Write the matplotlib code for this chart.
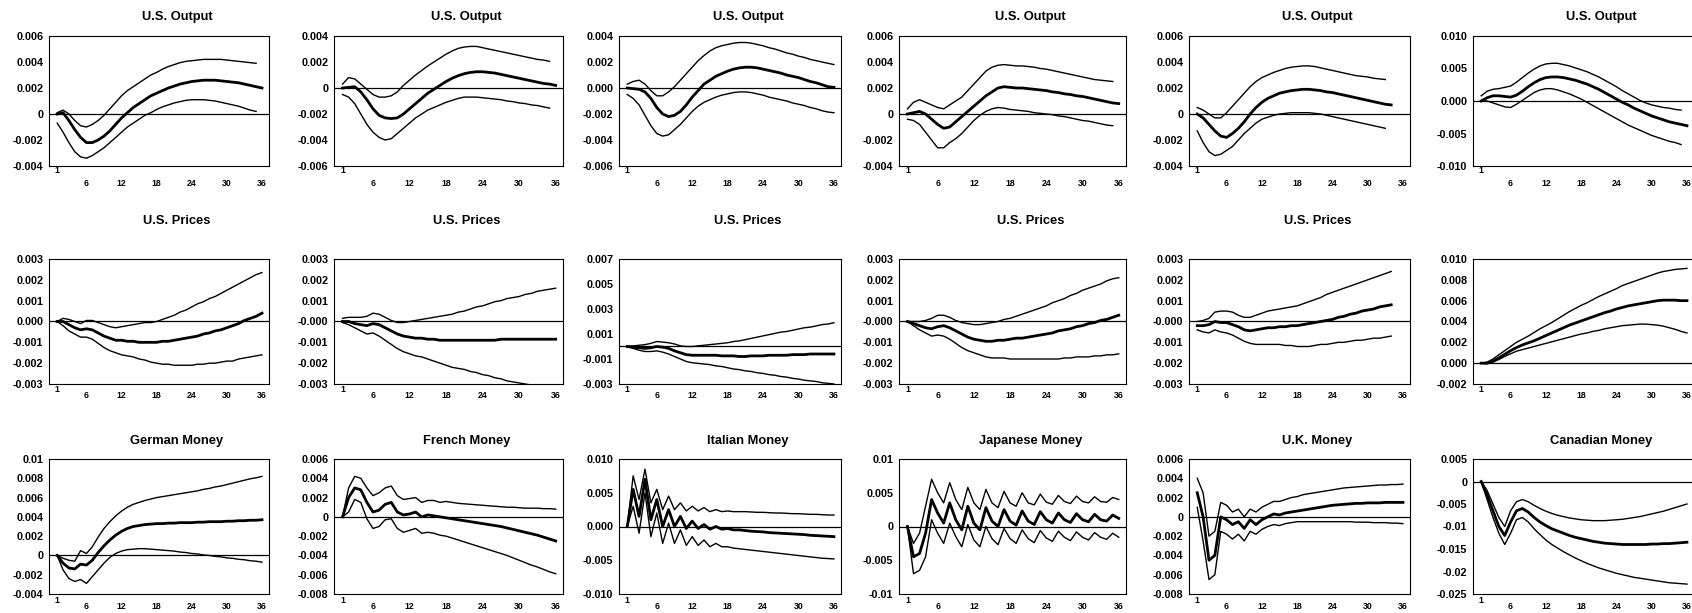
import matplotlib.pyplot as plt

plt.rcParams['font.family'] = ['Liberation Sans', 'DejaVu Sans']

# impulse responses, in units of 0.001, for periods 1, 2, 3, ...
# row 1: U.S. Output
r1c1_mid = [0, 0.1, -0.5, -1.2, -1.8, -2.2, -2.2, -2.0, -1.7, -1.3, -0.8, -0.3, 0.1, 0.5, 0.8, 1.1, 1.4, 1.6,
            1.8, 2.0, 2.15, 2.3, 2.4, 2.5, 2.55, 2.6, 2.6, 2.6, 2.55, 2.5, 2.45, 2.4, 2.3, 2.2, 2.1, 2.0]
r1c1_hi = [0.1, 0.3, 0.0, -0.5, -0.9, -1.0, -0.8, -0.5, -0.1, 0.4, 0.9, 1.4, 1.8, 2.1, 2.4, 2.7, 3.0, 3.2,
           3.45, 3.65, 3.8, 3.95, 4.05, 4.1, 4.15, 4.2, 4.2, 4.2, 4.2, 4.15, 4.1, 4.05, 4.0, 3.95, 3.9]
r1c1_lo = [-0.7, -1.4, -2.2, -2.9, -3.3, -3.4, -3.2, -2.9, -2.6, -2.2, -1.8, -1.4, -1.0, -0.7, -0.4, -0.1, 0.1,
           0.35, 0.55, 0.7, 0.85, 0.95, 1.05, 1.1, 1.1, 1.1, 1.05, 1.0, 0.9, 0.8, 0.7, 0.6, 0.45, 0.3, 0.2]

r1c2_mid = [0, 0.05, 0.1, -0.3, -0.9, -1.6, -2.1, -2.3, -2.35, -2.3, -2.0, -1.6, -1.2, -0.8, -0.4, -0.1, 0.2, 0.5,
            0.75, 0.95, 1.1, 1.2, 1.25, 1.25, 1.2, 1.15, 1.05, 0.95, 0.85, 0.75, 0.65, 0.55, 0.45, 0.35, 0.3, 0.2]
r1c2_hi = [0.3, 0.8, 0.7, 0.3, -0.1, -0.5, -0.7, -0.7, -0.6, -0.3, 0.2, 0.6, 1.0, 1.35, 1.7, 2.0, 2.3, 2.6,
           2.85, 3.05, 3.15, 3.2, 3.2, 3.1, 3.0, 2.9, 2.8, 2.7, 2.6, 2.5, 2.4, 2.3, 2.2, 2.15, 2.05]
r1c2_lo = [-0.5, -0.7, -1.2, -2.0, -2.8, -3.4, -3.8, -4.0, -3.9, -3.5, -3.1, -2.7, -2.3, -2.0, -1.7, -1.5, -1.3,
           -1.1, -0.95, -0.8, -0.7, -0.7, -0.7, -0.75, -0.8, -0.85, -0.9, -1.0, -1.05, -1.15, -1.2, -1.3, -1.35,
           -1.45, -1.55]

r1c3_mid = [0, -0.05, -0.1, -0.3, -0.8, -1.5, -2.0, -2.2, -2.1, -1.8, -1.3, -0.7, -0.2, 0.3, 0.6, 0.9, 1.1, 1.3,
            1.45, 1.55, 1.6, 1.6, 1.55, 1.45, 1.35, 1.25, 1.15, 1.0, 0.9, 0.8, 0.65, 0.5, 0.4, 0.25, 0.1, 0.05]
r1c3_hi = [0.3, 0.5, 0.6, 0.3, -0.2, -0.6, -0.6, -0.3, 0.1, 0.6, 1.1, 1.6, 2.1, 2.5, 2.85, 3.1, 3.25, 3.35,
           3.45, 3.5, 3.5, 3.45, 3.35, 3.25, 3.1, 3.0, 2.85, 2.7, 2.6, 2.45, 2.35, 2.2, 2.1, 2.0, 1.9, 1.8]
r1c3_lo = [-0.5, -0.8, -1.3, -2.1, -2.9, -3.5, -3.7, -3.6, -3.2, -2.8, -2.3, -1.8, -1.4, -1.1, -0.9, -0.7, -0.55,
           -0.45, -0.35, -0.3, -0.3, -0.35, -0.45, -0.55, -0.7, -0.8, -0.9, -1.0, -1.15, -1.25, -1.35, -1.5, -1.6,
           -1.75, -1.85, -1.9]

r1c4_mid = [0, 0.1, 0.2, 0.0, -0.4, -0.8, -1.1, -1.0, -0.6, -0.2, 0.2, 0.6, 1.0, 1.4, 1.7, 2.0, 2.1, 2.05,
            2.0, 2.0, 1.95, 1.9, 1.85, 1.8, 1.7, 1.65, 1.55, 1.5, 1.4, 1.35, 1.25, 1.15, 1.05, 0.95, 0.85, 0.8]
r1c4_hi = [0.4, 0.9, 1.1, 0.9, 0.7, 0.5, 0.4, 0.7, 1.0, 1.3, 1.8, 2.3, 2.8, 3.3, 3.6, 3.75, 3.8, 3.75, 3.7,
           3.7, 3.65, 3.6, 3.5, 3.45, 3.35, 3.25, 3.15, 3.05, 2.95, 2.85, 2.75, 2.65, 2.6, 2.55, 2.5]
r1c4_lo = [-0.4, -0.5, -0.8, -1.4, -2.0, -2.6, -2.6, -2.2, -1.9, -1.5, -1.0, -0.5, -0.1, 0.2, 0.4, 0.5, 0.45,
           0.35, 0.3, 0.25, 0.2, 0.1, 0.05, 0.0, -0.05, -0.15, -0.2, -0.3, -0.4, -0.5, -0.55, -0.65, -0.75,
           -0.85, -0.9]

r1c5_mid = [0, -0.3, -0.8, -1.3, -1.7, -1.8, -1.5, -1.1, -0.6, 0.0, 0.5, 0.9, 1.2, 1.4, 1.6, 1.7, 1.8, 1.85,
            1.9, 1.9, 1.85, 1.8, 1.7, 1.65, 1.55, 1.45, 1.35, 1.25, 1.15, 1.05, 0.95, 0.85, 0.75, 0.7]
r1c5_hi = [0.5, 0.3, 0.0, -0.3, -0.3, 0.1, 0.6, 1.1, 1.6, 2.1, 2.5, 2.8, 3.0, 3.2, 3.35, 3.5, 3.6, 3.65, 3.7,
           3.7, 3.65, 3.55, 3.45, 3.35, 3.25, 3.15, 3.05, 2.95, 2.9, 2.85, 2.75, 2.7, 2.65]
r1c5_lo = [-1.3, -2.2, -2.9, -3.2, -3.1, -2.8, -2.5, -2.0, -1.5, -1.1, -0.7, -0.4, -0.25, -0.1, 0.0, 0.05, 0.1,
           0.1, 0.1, 0.1, 0.05, 0.0, -0.1, -0.2, -0.3, -0.4, -0.5, -0.6, -0.7, -0.8, -0.9, -1.0, -1.1]

r1c6_mid = [0, 0.5, 0.8, 0.8, 0.7, 0.6, 0.9, 1.5, 2.2, 2.8, 3.3, 3.6, 3.7, 3.7, 3.6, 3.4, 3.2, 2.9, 2.6, 2.2,
            1.8, 1.3, 0.8, 0.3, -0.2, -0.6, -1.1, -1.5, -1.9, -2.3, -2.6, -2.9, -3.2, -3.4, -3.6, -3.8]
r1c6_hi = [0.8, 1.5, 1.8, 1.9, 2.1, 2.3, 2.9, 3.6, 4.3, 4.9, 5.4, 5.7, 5.8, 5.8, 5.6, 5.4, 5.1, 4.8, 4.5, 4.1,
           3.7, 3.2, 2.7, 2.2, 1.6, 1.1, 0.6, 0.1, -0.3, -0.6, -0.8, -1.0, -1.1, -1.3, -1.4]
r1c6_lo = [0, 0, -0.3, -0.6, -0.9, -1.0, -0.5, 0.1, 0.7, 1.3, 1.7, 1.9, 1.9, 1.7, 1.4, 1.1, 0.7, 0.3, -0.2,
           -0.7, -1.2, -1.7, -2.2, -2.7, -3.2, -3.7, -4.1, -4.5, -4.9, -5.3, -5.6, -5.9, -6.2, -6.4, -6.7]

# row 2: U.S. Prices (last panel untitled)
r2c1_mid = [0, 0, -0.15, -0.3, -0.4, -0.35, -0.4, -0.55, -0.7, -0.8, -0.9, -0.9, -0.95, -0.95, -1.0, -1.0, -1.0,
            -1.0, -0.95, -0.95, -0.9, -0.85, -0.8, -0.75, -0.7, -0.6, -0.55, -0.45, -0.4, -0.3, -0.2, -0.1,
            0.05, 0.15, 0.25, 0.4]
r2c1_hi = [0, 0.15, 0.1, 0.0, -0.1, 0.05, 0.05, -0.05, -0.15, -0.25, -0.3, -0.25, -0.2, -0.15, -0.1, -0.05,
           -0.05, 0.0, 0.1, 0.2, 0.3, 0.45, 0.55, 0.7, 0.85, 0.95, 1.1, 1.2, 1.35, 1.5, 1.65, 1.8, 1.95, 2.1,
           2.25, 2.35]
r2c1_lo = [0, -0.2, -0.45, -0.6, -0.75, -0.75, -0.85, -1.05, -1.25, -1.4, -1.5, -1.6, -1.65, -1.7, -1.8, -1.85,
           -1.95, -2.0, -2.05, -2.05, -2.1, -2.1, -2.1, -2.1, -2.05, -2.05, -2.0, -2.0, -1.95, -1.9, -1.9, -1.8,
           -1.75, -1.7, -1.65, -1.6]

r2c2_mid = [0, 0, -0.1, -0.15, -0.2, -0.1, -0.15, -0.3, -0.45, -0.6, -0.7, -0.75, -0.8, -0.8, -0.85, -0.85,
            -0.9, -0.9, -0.9, -0.9, -0.9, -0.9, -0.9, -0.9, -0.9, -0.9, -0.85, -0.85, -0.85, -0.85, -0.85,
            -0.85, -0.85, -0.85, -0.85, -0.85]
r2c2_hi = [0.15, 0.2, 0.2, 0.2, 0.25, 0.4, 0.35, 0.2, 0.05, -0.05, -0.05, 0.0, 0.05, 0.1, 0.15, 0.2, 0.25, 0.3,
           0.35, 0.45, 0.5, 0.6, 0.7, 0.75, 0.85, 0.95, 1.0, 1.1, 1.15, 1.2, 1.3, 1.35, 1.45, 1.5, 1.55, 1.6]
r2c2_lo = [-0.05, -0.15, -0.3, -0.45, -0.6, -0.55, -0.7, -0.9, -1.1, -1.3, -1.45, -1.55, -1.65, -1.7, -1.8,
           -1.9, -2.0, -2.1, -2.2, -2.25, -2.3, -2.4, -2.45, -2.55, -2.6, -2.7, -2.75, -2.85, -2.9, -2.95, -3.0,
           -3.05, -3.1, -3.15, -3.2, -3.25]

r2c3_mid = [0, -0.05, -0.1, -0.15, -0.1, 0.0, -0.05, -0.15, -0.35, -0.5, -0.65, -0.7, -0.7, -0.7, -0.7, -0.7,
            -0.75, -0.75, -0.75, -0.8, -0.8, -0.75, -0.75, -0.75, -0.7, -0.7, -0.7, -0.7, -0.65, -0.65, -0.65,
            -0.6, -0.6, -0.6, -0.6, -0.6]
r2c3_hi = [0, 0.05, 0.1, 0.15, 0.25, 0.4, 0.35, 0.3, 0.2, 0.05, 0.0, 0.0, 0.05, 0.1, 0.15, 0.2, 0.25, 0.3,
           0.4, 0.45, 0.55, 0.65, 0.75, 0.85, 0.95, 1.05, 1.15, 1.2, 1.3, 1.4, 1.5, 1.55, 1.65, 1.75, 1.8, 1.9]
r2c3_lo = [0, -0.15, -0.3, -0.4, -0.4, -0.35, -0.45, -0.6, -0.8, -1.0, -1.2, -1.3, -1.35, -1.4, -1.45, -1.55,
           -1.6, -1.7, -1.8, -1.85, -1.95, -2.0, -2.1, -2.15, -2.25, -2.3, -2.4, -2.45, -2.55, -2.6, -2.7,
           -2.75, -2.8, -2.9, -2.95, -3.0]

r2c4_mid = [0, -0.1, -0.2, -0.3, -0.35, -0.25, -0.2, -0.3, -0.45, -0.6, -0.75, -0.85, -0.9, -0.95, -0.95,
            -0.9, -0.9, -0.85, -0.8, -0.8, -0.75, -0.7, -0.65, -0.6, -0.55, -0.45, -0.4, -0.35, -0.25, -0.2,
            -0.1, -0.05, 0.05, 0.1, 0.2, 0.3]
r2c4_hi = [0, 0, 0.0, 0.05, 0.15, 0.3, 0.3, 0.2, 0.05, -0.05, -0.1, -0.15, -0.15, -0.1, -0.05, 0.0, 0.1,
           0.15, 0.25, 0.35, 0.45, 0.55, 0.65, 0.75, 0.9, 1.0, 1.1, 1.25, 1.35, 1.5, 1.6, 1.7, 1.8, 1.95, 2.05,
           2.1]
r2c4_lo = [0, -0.2, -0.4, -0.55, -0.7, -0.65, -0.7, -0.85, -1.05, -1.25, -1.4, -1.5, -1.6, -1.7, -1.75,
           -1.75, -1.75, -1.8, -1.8, -1.8, -1.8, -1.8, -1.8, -1.8, -1.8, -1.8, -1.75, -1.75, -1.7, -1.7, -1.7,
           -1.65, -1.65, -1.6, -1.6, -1.55]

r2c5_mid = [-0.2, -0.2, -0.15, 0.0, -0.05, -0.05, -0.15, -0.25, -0.4, -0.45, -0.4, -0.35, -0.3, -0.3, -0.25,
            -0.25, -0.2, -0.2, -0.15, -0.1, -0.05, 0.0, 0.05, 0.1, 0.2, 0.25, 0.35, 0.4, 0.5, 0.55, 0.6, 0.7,
            0.75, 0.8]
r2c5_hi = [0, 0.05, 0.15, 0.45, 0.5, 0.5, 0.45, 0.3, 0.2, 0.2, 0.3, 0.4, 0.5, 0.55, 0.6, 0.65, 0.7, 0.75, 0.85,
           0.95, 1.05, 1.15, 1.3, 1.4, 1.5, 1.6, 1.7, 1.8, 1.9, 2.0, 2.1, 2.2, 2.3, 2.4]
r2c5_lo = [-0.4, -0.5, -0.55, -0.4, -0.5, -0.55, -0.65, -0.8, -0.95, -1.05, -1.1, -1.1, -1.1, -1.1, -1.1,
           -1.15, -1.15, -1.2, -1.2, -1.2, -1.15, -1.1, -1.1, -1.05, -1.0, -1.0, -0.95, -0.9, -0.9, -0.85,
           -0.8, -0.8, -0.75, -0.7]

r2c6_mid = [0, 0.0, 0.2, 0.5, 0.85, 1.2, 1.5, 1.75, 1.95, 2.15, 2.4, 2.65, 2.9, 3.15, 3.4, 3.65, 3.85, 4.05,
            4.25, 4.45, 4.65, 4.85, 5.0, 5.2, 5.35, 5.5, 5.6, 5.7, 5.8, 5.9, 6.0, 6.05, 6.05, 6.05, 6.0, 6.0]
r2c6_hi = [0, 0.1, 0.4, 0.8, 1.2, 1.6, 2.0, 2.3, 2.6, 2.95, 3.3, 3.6, 3.9, 4.25, 4.6, 4.95, 5.25, 5.55, 5.8,
           6.1, 6.4, 6.65, 6.9, 7.15, 7.45, 7.65, 7.85, 8.05, 8.25, 8.45, 8.65, 8.8, 8.9, 9.0, 9.05, 9.1]
r2c6_lo = [0, -0.05, 0.1, 0.35, 0.65, 0.9, 1.15, 1.3, 1.45, 1.6, 1.75, 1.9, 2.05, 2.2, 2.35, 2.5, 2.65, 2.8,
           2.9, 3.05, 3.15, 3.3, 3.4, 3.5, 3.6, 3.65, 3.7, 3.75, 3.75, 3.7, 3.65, 3.55, 3.4, 3.25, 3.05, 2.9]

# row 3: money responses
r3c1_mid = [0, -0.8, -1.3, -1.4, -0.9, -1.0, -0.5, 0.3, 1.0, 1.6, 2.1, 2.5, 2.8, 3.0, 3.1, 3.2, 3.25, 3.3,
            3.3, 3.35, 3.35, 3.4, 3.4, 3.4, 3.45, 3.45, 3.5, 3.5, 3.5, 3.55, 3.55, 3.6, 3.6, 3.65, 3.65, 3.7]
r3c1_hi = [0, -0.3, -0.5, -0.6, 0.5, 0.2, 0.9, 1.9, 2.8, 3.5, 4.1, 4.6, 5.0, 5.3, 5.5, 5.7, 5.85, 6.0, 6.1,
           6.2, 6.3, 6.4, 6.5, 6.6, 6.7, 6.85, 6.95, 7.1, 7.2, 7.35, 7.5, 7.65, 7.8, 7.95, 8.05, 8.2]
r3c1_lo = [0, -1.5, -2.4, -2.7, -2.5, -2.9, -2.2, -1.5, -0.8, -0.2, 0.2, 0.45, 0.6, 0.65, 0.7, 0.7, 0.65,
           0.6, 0.55, 0.5, 0.45, 0.35, 0.3, 0.2, 0.15, 0.05, 0.0, -0.1, -0.15, -0.25, -0.3, -0.4, -0.45,
           -0.55, -0.6, -0.7]

r3c2_mid = [0, 2.0, 3.0, 2.8, 1.5, 0.5, 0.7, 1.3, 1.5, 0.5, 0.2, 0.3, 0.5, 0.0, 0.2, 0.1, 0.0, -0.1, -0.2,
            -0.3, -0.4, -0.5, -0.6, -0.7, -0.8, -0.9, -1.0, -1.15, -1.3, -1.45, -1.6, -1.75, -1.9, -2.1, -2.3,
            -2.5]
r3c2_hi = [0, 3.0, 4.2, 4.0, 3.0, 2.2, 2.5, 3.0, 3.2, 2.2, 1.8, 1.9, 2.0, 1.5, 1.7, 1.7, 1.5, 1.6, 1.5, 1.4,
           1.35, 1.3, 1.25, 1.2, 1.15, 1.1, 1.05, 1.0, 1.0, 0.95, 0.9, 0.9, 0.9, 0.85, 0.85, 0.8]
r3c2_lo = [0, 0.5, 1.8, 1.5, -0.2, -1.2, -1.0, -0.3, -0.2, -1.2, -1.6, -1.4, -1.2, -1.7, -1.6, -1.7, -1.9,
           -2.0, -2.2, -2.4, -2.6, -2.8, -3.0, -3.2, -3.4, -3.6, -3.8, -4.0, -4.25, -4.5, -4.75, -5.0, -5.2,
           -5.45, -5.7, -5.9]

r3c3_mid = [0, 5.5, 1.5, 7.0, 1.0, 4.0, 0.0, 2.5, 0.0, 1.5, -0.3, 0.8, -0.3, 0.3, -0.4, 0.0, -0.4, -0.3,
            -0.5, -0.5, -0.6, -0.7, -0.75, -0.8, -0.9, -0.95, -1.0, -1.05, -1.1, -1.15, -1.2, -1.3, -1.35,
            -1.4, -1.45, -1.5]
r3c3_hi = [0, 7.5, 4.0, 8.5, 3.5, 5.5, 2.5, 4.5, 2.5, 3.5, 2.3, 3.0, 2.3, 2.8, 2.2, 2.5, 2.2, 2.3, 2.2, 2.2,
           2.2, 2.15, 2.1, 2.1, 2.05, 2.0, 2.0, 1.95, 1.9, 1.9, 1.85, 1.8, 1.8, 1.75, 1.7, 1.7]
r3c3_lo = [0, 3.0, -1.0, 5.0, -1.5, 2.0, -2.5, 0.5, -2.5, -0.5, -2.8, -1.5, -2.8, -2.0, -3.0, -2.5, -3.0,
           -3.0, -3.2, -3.3, -3.4, -3.5, -3.6, -3.7, -3.8, -3.9, -4.0, -4.1, -4.2, -4.3, -4.4, -4.5, -4.6,
           -4.7, -4.75, -4.8]

r3c4_mid = [0, -4.5, -4.0, -1.0, 4.0, 2.0, 0.5, 3.5, 1.0, -0.5, 3.0, 0.5, -0.5, 2.8, 0.8, 0.0, 2.5, 0.8, 0.2,
            2.3, 0.8, 0.3, 2.2, 1.0, 0.5, 2.0, 1.0, 0.6, 1.9, 1.0, 0.7, 1.8, 1.0, 0.8, 1.7, 1.2]
r3c4_hi = [0, -2.5, -1.0, 3.0, 7.0, 5.0, 3.5, 6.5, 4.0, 2.5, 5.8, 3.5, 2.5, 5.5, 3.5, 2.8, 5.2, 3.5, 3.0,
           5.0, 3.5, 3.2, 4.8, 3.6, 3.3, 4.6, 3.7, 3.4, 4.5, 3.7, 3.5, 4.4, 3.7, 3.6, 4.3, 4.0]
r3c4_lo = [0, -7.0, -6.5, -4.5, 1.0, -1.0, -2.5, 0.5, -1.5, -3.0, 0.3, -2.0, -3.0, 0.0, -1.8, -2.7, -0.3,
           -1.8, -2.5, -0.5, -1.8, -2.4, -0.6, -1.7, -2.2, -0.7, -1.6, -2.1, -0.8, -1.6, -2.0, -0.9, -1.6,
           -1.9, -1.0, -1.6]

r3c5_mid = [2.5, 0.0, -4.5, -4.0, 0.0, -0.3, -0.8, -0.5, -1.2, -0.3, -0.8, -0.3, 0.0, 0.3, 0.2, 0.4, 0.5,
            0.6, 0.7, 0.8, 0.9, 1.0, 1.1, 1.2, 1.25, 1.3, 1.35, 1.4, 1.4, 1.45, 1.45, 1.45, 1.5, 1.5, 1.5, 1.5]
r3c5_hi = [4.0, 2.5, -2.0, -1.5, 1.5, 1.2, 0.5, 0.8, 0.0, 0.8, 0.5, 1.0, 1.3, 1.6, 1.6, 1.8, 2.0, 2.1, 2.3,
           2.4, 2.5, 2.6, 2.7, 2.8, 2.9, 3.0, 3.05, 3.1, 3.15, 3.2, 3.25, 3.3, 3.3, 3.35, 3.35, 3.4]
r3c5_lo = [1.0, -2.5, -6.5, -6.0, -1.5, -1.8, -2.3, -1.8, -2.5, -1.5, -1.8, -1.3, -1.0, -0.8, -0.9, -0.7,
           -0.6, -0.5, -0.5, -0.5, -0.5, -0.5, -0.5, -0.5, -0.5, -0.5, -0.5, -0.55, -0.55, -0.55, -0.6, -0.6,
           -0.6, -0.65, -0.65, -0.7]

r3c6_mid = [0, -3.0, -6.5, -10.0, -12.0, -9.0, -6.5, -6.0, -6.8, -8.0, -9.0, -9.8, -10.5, -11.0, -11.5,
            -12.0, -12.4, -12.7, -13.0, -13.3, -13.5, -13.7, -13.8, -13.9, -14.0, -14.0, -14.0, -14.0, -14.0,
            -13.9, -13.9, -13.8, -13.8, -13.7, -13.6, -13.5]
r3c6_hi = [0, -2.0, -5.0, -8.0, -10.0, -6.5, -4.5, -4.0, -4.5, -5.3, -6.0, -6.6, -7.1, -7.5, -7.8, -8.1,
           -8.3, -8.5, -8.6, -8.7, -8.7, -8.7, -8.6, -8.5, -8.4, -8.2, -8.0, -7.8, -7.5, -7.2, -6.9, -6.6,
           -6.2, -5.8, -5.4, -5.0]
r3c6_lo = [0, -4.0, -8.0, -11.5, -14.0, -11.5, -8.5, -8.0, -9.0, -10.5, -11.8, -13.0, -14.0, -14.8, -15.6,
           -16.3, -17.0, -17.6, -18.2, -18.7, -19.2, -19.6, -20.0, -20.4, -20.7, -21.0, -21.3, -21.5, -21.7,
           -21.9, -22.1, -22.3, -22.5, -22.6, -22.7, -22.8]

titles = [
    ["U.S. Output"] * 6,
    ["U.S. Prices"] * 5 + [""],
    ["German Money", "French Money", "Italian Money", "Japanese Money", "U.K. Money", "Canadian Money"],
]

ylabels = [
    [["-0.004", "-0.002", "0", "0.002", "0.004", "0.006"],
     ["-0.006", "-0.004", "-0.002", "0", "0.002", "0.004"],
     ["-0.006", "-0.004", "-0.002", "0.000", "0.002", "0.004"],
     ["-0.004", "-0.002", "0", "0.002", "0.004", "0.006"],
     ["-0.004", "-0.002", "0", "0.002", "0.004", "0.006"],
     ["-0.010", "-0.005", "0.000", "0.005", "0.010"]],
    [["-0.003", "-0.002", "-0.001", "0.000", "0.001", "0.002", "0.003"],
     ["-0.003", "-0.002", "-0.001", "-0.000", "0.001", "0.002", "0.003"],
     ["-0.003", "-0.001", "0.001", "0.003", "0.005", "0.007"],
     ["-0.003", "-0.002", "-0.001", "-0.000", "0.001", "0.002", "0.003"],
     ["-0.003", "-0.002", "-0.001", "-0.000", "0.001", "0.002", "0.003"],
     ["-0.002", "0.000", "0.002", "0.004", "0.006", "0.008", "0.010"]],
    [["-0.004", "-0.002", "0", "0.002", "0.004", "0.006", "0.008", "0.01"],
     ["-0.008", "-0.006", "-0.004", "-0.002", "0", "0.002", "0.004", "0.006"],
     ["-0.010", "-0.005", "0.000", "0.005", "0.010"],
     ["-0.01", "-0.005", "0", "0.005", "0.01"],
     ["-0.008", "-0.006", "-0.004", "-0.002", "0", "0.002", "0.004", "0.006"],
     ["-0.025", "-0.02", "-0.015", "-0.01", "-0.005", "0", "0.005"]],
]

series = [
    [(r1c1_mid, r1c1_hi, r1c1_lo), (r1c2_mid, r1c2_hi, r1c2_lo), (r1c3_mid, r1c3_hi, r1c3_lo),
     (r1c4_mid, r1c4_hi, r1c4_lo), (r1c5_mid, r1c5_hi, r1c5_lo), (r1c6_mid, r1c6_hi, r1c6_lo)],
    [(r2c1_mid, r2c1_hi, r2c1_lo), (r2c2_mid, r2c2_hi, r2c2_lo), (r2c3_mid, r2c3_hi, r2c3_lo),
     (r2c4_mid, r2c4_hi, r2c4_lo), (r2c5_mid, r2c5_hi, r2c5_lo), (r2c6_mid, r2c6_hi, r2c6_lo)],
    [(r3c1_mid, r3c1_hi, r3c1_lo), (r3c2_mid, r3c2_hi, r3c2_lo), (r3c3_mid, r3c3_hi, r3c3_lo),
     (r3c4_mid, r3c4_hi, r3c4_lo), (r3c5_mid, r3c5_hi, r3c5_lo), (r3c6_mid, r3c6_hi, r3c6_lo)],
]

xticks = [6, 12, 18, 24, 30, 36]

# layout in pixels
W, H = 1692, 613
cols = [(49, 269), (334, 563), (619, 841), (899, 1126), (1189, 1410), (1473, 1694)]
rows = [(36, 166), (259, 384), (459, 594)]
title_y = [17, 221, 441]
pads = [(0.3, 9.5), (0.5, 5.0), (1.5, 6.0)]

fig = plt.figure(figsize=(W / 100, H / 100), dpi=100)

for i, (top, bot) in enumerate(rows):
    for j, (left, right) in enumerate(cols):
        ax = fig.add_axes([left / W, 1 - bot / H, (right - left) / W, (bot - top) / H])
        mid, hi, lo = series[i][j]
        sc = 1e-3
        ax.axhline(0, color='black', lw=0.9)
        ax.plot(range(1, len(hi) + 1), [v * sc for v in hi], color='black', lw=1.0)
        ax.plot(range(1, len(lo) + 1), [v * sc for v in lo], color='black', lw=1.0)
        ax.plot(range(1, len(mid) + 1), [v * sc for v in mid], color='black', lw=2.0)

        labs = ylabels[i][j]
        vals = [float(s) for s in labs]
        ax.set_ylim(min(vals), max(vals))
        ax.set_yticks(vals)
        ax.set_yticklabels(labs)
        ax.set_xlim(-0.4, 37.2)
        ax.set_xticks(xticks)
        ax.set_xticklabels([str(t) for t in xticks])
        ax.set_xticks([1], minor=True)
        ax.set_xticklabels(['1'], minor=True)
        ax.tick_params(axis='y', length=0, pad=4, labelsize=7.8)
        ax.tick_params(axis='x', which='major', length=0, pad=pads[i][1], labelsize=6.3)
        ax.tick_params(axis='x', which='minor', length=0, pad=pads[i][0], labelsize=6.3)
        for lab in ax.get_yticklabels() + ax.get_xticklabels() + ax.get_xticklabels(minor=True):
            lab.set_fontweight('bold')
        for sp in ax.spines.values():
            sp.set_linewidth(0.8)

        if titles[i][j]:
            fig.text(((left + right) / 2 + 18) / W, 1 - title_y[i] / H, titles[i][j],
                     ha='center', va='center', fontsize=9.3, fontweight='bold')

fig.savefig('out.png', dpi=100)
